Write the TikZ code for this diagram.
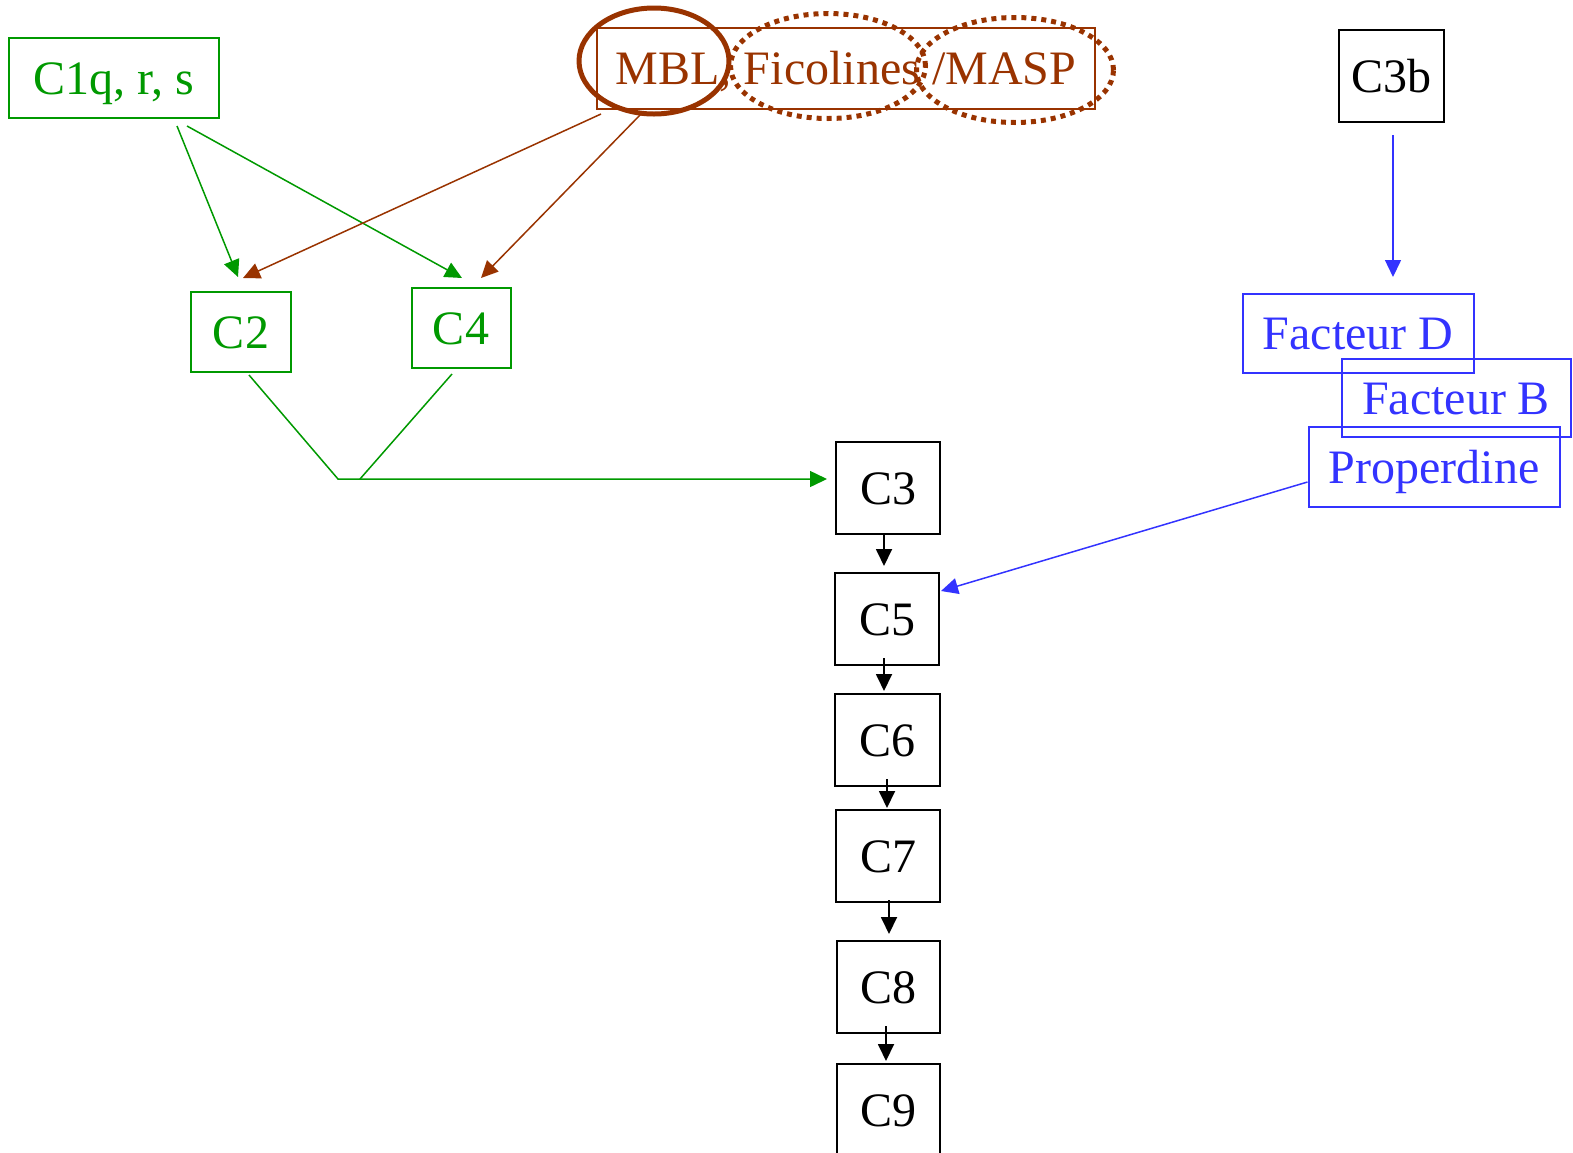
\documentclass[tikz,border=0pt]{standalone}
\usepackage{fontspec}
\setmainfont{Liberation Serif}
\usetikzlibrary{arrows.meta,calc,shapes.geometric}
\definecolor{cgreen}{RGB}{0,153,0}
\definecolor{cbrown}{RGB}{153,51,0}
\definecolor{cblue}{RGB}{51,51,255}
\begin{document}
\begin{tikzpicture}[x=0.5pt,y=-0.5pt,
  box/.style={draw,line width=1pt,inner sep=0pt,font=\fontsize{24}{28}\selectfont,
    text height=18pt,text depth=2pt,anchor=center},
  gbox/.style={box,draw=cgreen,text=cgreen},
  bbox/.style={box,draw=cblue,text=cblue},
  kbox/.style={box,draw=black,text=black,minimum width=52pt,minimum height=46pt},
  tip/.style={-{Triangle[length=8.5pt,width=8pt]}},
  ktip/.style={-{Triangle[length=8.5pt,width=8pt]}},
  gline/.style={draw=cgreen,line width=0.75pt},
  rline/.style={draw=cbrown,line width=0.75pt},
  uline/.style={draw=cblue,line width=0.75pt},
  kline/.style={draw=black,line width=0.9pt},
  ring/.style={ellipse,draw=cbrown,inner sep=0pt},
  dotring/.style={ring,line width=2.5pt,dash pattern=on 2.5pt off 2.5pt}]
\useasboundingbox (0,0) rectangle (1573,1152);

% classical pathway
\node[gbox,minimum width=105pt,minimum height=40pt] (C1q) at (114,78) {C1q, r, s};
\node[gbox,minimum width=50pt,minimum height=40pt] (C2) at (241,332) {C2};
\node[gbox,minimum width=49.5pt,minimum height=40pt] (C4) at (461,328) {C4};

% lectin pathway
\node[box,draw=cbrown,text=cbrown,minimum width=249pt,minimum height=40.5pt] (MBL) at (846,68) {MBL, Ficolines /MASP};
\node[ring,line width=2.5pt,minimum width=75pt,minimum height=53pt] (rMBL) at (654,61) {};
\node[dotring,minimum width=97.5pt,minimum height=52.5pt] (rFic) at (828,66) {};
\node[dotring,minimum width=98.5pt,minimum height=52.5pt] (rMASP) at (1015,70) {};

% alternative pathway
\node[kbox,minimum width=52.5pt] (C3b) at (1391,76) {C3b};
\node[bbox,minimum width=115.5pt,minimum height=39.5pt] (FD) at (1358,333) {Facteur D};
\node[bbox,minimum width=114.5pt,minimum height=39pt] (FB) at (1456,398) {Facteur B};
\node[bbox,minimum width=125.5pt,minimum height=40pt] (Prop) at (1434,467) {Properdine};

% terminal sequence
\node[kbox] (C3) at (888,488) {C3};
\node[kbox] (C5) at (887,619) {C5};
\node[kbox,minimum width=52.5pt] (C6) at (887,740) {C6};
\node[kbox] (C7) at (888,856) {C7};
\node[kbox,minimum width=51.5pt] (C8) at (888,987) {C8};
\node[kbox,minimum width=51.5pt] (C9) at (888,1110) {C9};

% C1 activates C2 and C4
\draw[gline,tip] ($(C1q.south)+(63,7)$) -- ($(C2.north)+(-3,-14)$);
\draw[gline,tip] ($(C1q.south)+(73,7)$) -- ($(C4.north)+(1,-9)$);
% MBL activates C2 and C4
\draw[rline,tip] ($(MBL.south west)+(5,4.5)$) -- ($(C2.north)+(2,-13)$);
\draw[rline,tip] ($(MBL.south west)+(45,4.5)$) -- ($(C4.north)+(20,-9)$);

% C2 + C4 act on C3
\coordinate (J) at (338,479);
\coordinate (J2) at (360,479);
\draw[gline,tip] ($(C2.south)+(8,2)$) -- (J) -- ($(C3.west)+(-8,-9)$);
\draw[gline] ($(C4.south)+(-9,5)$) -- (J2);

% alternative branch
\draw[uline,tip] ($(C3b.south)+(2,12)$) -- ($(C3b.south)+(2,154)$);
\draw[uline,tip] ($(Prop.west)+(0,15)$) -- ($(C5.east)+(1,-28)$);

% cascade
\draw[kline,ktip] ($(C3.south)+(-4,0)$) -- ($(C5.north)+(-3,-6)$);
\draw[kline,ktip] ($(C5.south)+(-3,-8)$) -- ($(C6.north)+(-3,-2)$);
\draw[kline,ktip] ($(C6.south)+(0,-8)$) -- ($(C7.north)+(-1,-1)$);
\draw[kline,ktip] ($(C7.south)+(1,-3)$) -- ($(C8.north)+(1,-6)$);
\draw[kline,ktip] ($(C8.south)+(-2,-8)$) -- ($(C9.north)+(-2,-2)$);
\end{tikzpicture}
\end{document}
